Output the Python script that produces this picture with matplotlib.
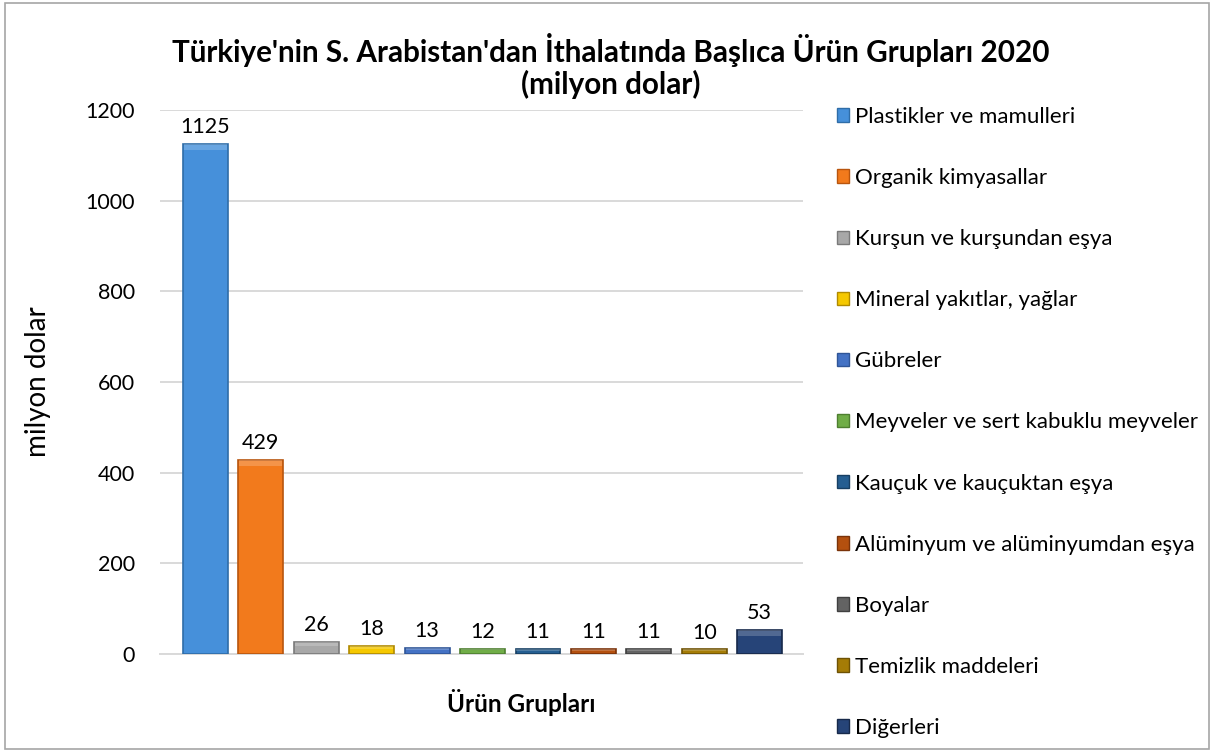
import matplotlib
matplotlib.use("Agg")
import matplotlib.pyplot as plt
from matplotlib.patches import Patch, Rectangle

plt.rcParams["font.family"] = ["Lato", "DejaVu Sans"]

# Chart data
groups = [
    "Plastikler ve mamulleri",
    "Organik kimyasallar",
    "Kurşun ve kurşundan eşya",
    "Mineral yakıtlar, yağlar",
    "Gübreler",
    "Meyveler ve sert kabuklu meyveler",
    "Kauçuk ve kauçuktan eşya",
    "Alüminyum ve alüminyumdan eşya",
    "Boyalar",
    "Temizlik maddeleri",
    "Diğerleri",
]
values = [1125, 429, 26, 18, 13, 12, 11, 11, 11, 10, 53]
colors = [
    "#4690DA", "#F27A1C", "#A8A8A8", "#F5C800", "#4472C4", "#70AD47",
    "#255E91", "#B4500F", "#636363", "#A57C06", "#264478",
]
edge_colors = [
    "#2F6DA8", "#B8550E", "#7A7A7A", "#B08A00", "#2F5597", "#4E7F30",
    "#173F63", "#7A330A", "#404040", "#6E5204", "#17294A",
]
yticks = [0, 200, 400, 600, 800, 1000, 1200]

fig = plt.figure(figsize=(12.16, 7.53), dpi=100)
W, H = 1216, 753

# axes placement in pixels (left, top, right, bottom)
L, T, R, B = 160, 110, 803, 654
ax = fig.add_axes([L / W, 1 - B / H, (R - L) / W, (B - T) / H])

x = list(range(len(values)))
bars = ax.bar(x, values, width=0.81, color=colors, edgecolor=edge_colors,
              linewidth=1.2, zorder=3)

# light top band to hint at the bevel look
for bar, c in zip(bars, colors):
    h = bar.get_height()
    band = min(h * 0.35, 14)
    ax.bar(bar.get_x() + bar.get_width() / 2, band, bottom=h - band,
           width=bar.get_width() * 0.96, color="white", alpha=0.2,
           linewidth=0, zorder=4)

for xi, v in zip(x, values):
    ax.annotate(str(v), (xi, v), xytext=(0, 5), textcoords="offset points",
                ha="center", va="bottom", fontsize=15.5, color="#000000")

ax.set_xlim(-0.82, 10.78)
ax.set_ylim(0, 1200)
ax.set_yticks(yticks)
ax.set_yticklabels([str(t) for t in yticks], fontsize=15.5)
ax.set_xticks([])
ax.tick_params(axis="y", length=0, pad=18)
ax.grid(axis="y", color="#D9D9D9", linewidth=1.4, zorder=0)
ax.set_axisbelow(True)
for pos in ["top", "right", "left"]:
    ax.spines[pos].set_visible(False)
ax.spines["bottom"].set_color("#D9D9D9")
ax.spines["bottom"].set_linewidth(1.4)

ax.set_xlabel("Ürün Grupları", fontsize=17.5, fontweight="bold")
ax.xaxis.set_label_coords((521 - L) / (R - L), -(703 - B) / (B - T),
                          transform=ax.transAxes)
ax.xaxis.label.set_va("center")
ax.set_ylabel("milyon dolar", fontsize=20)
ax.yaxis.set_label_coords(-(L - 38) / (R - L), 0.5)
ax.yaxis.label.set_va("center")

fig.text(611 / W, 1 - 66 / H,
         "Türkiye'nin S. Arabistan'dan İthalatında Başlıca Ürün Grupları 2020\n(milyon dolar)",
         ha="center", va="center", fontsize=21.3, fontweight="bold",
         linespacing=1.15)

handles = [Patch(facecolor=c, edgecolor=e, linewidth=1.0)
           for c, e in zip(colors, edge_colors)]
fig.legend(handles, groups, loc="upper left",
           bbox_to_anchor=(828 / W, 1 - 98 / H), frameon=False,
           fontsize=16, labelspacing=1.85, handlelength=0.55, handleheight=0.55,
           handletextpad=0.25, borderaxespad=0)

# outer chart border
fig.patches.append(Rectangle((5 / W, 4 / H), 1204 / W, 746 / H,
                             transform=fig.transFigure, fill=False,
                             edgecolor="#A6A6A6", linewidth=1.2))

fig.savefig("out.png", dpi=100)
